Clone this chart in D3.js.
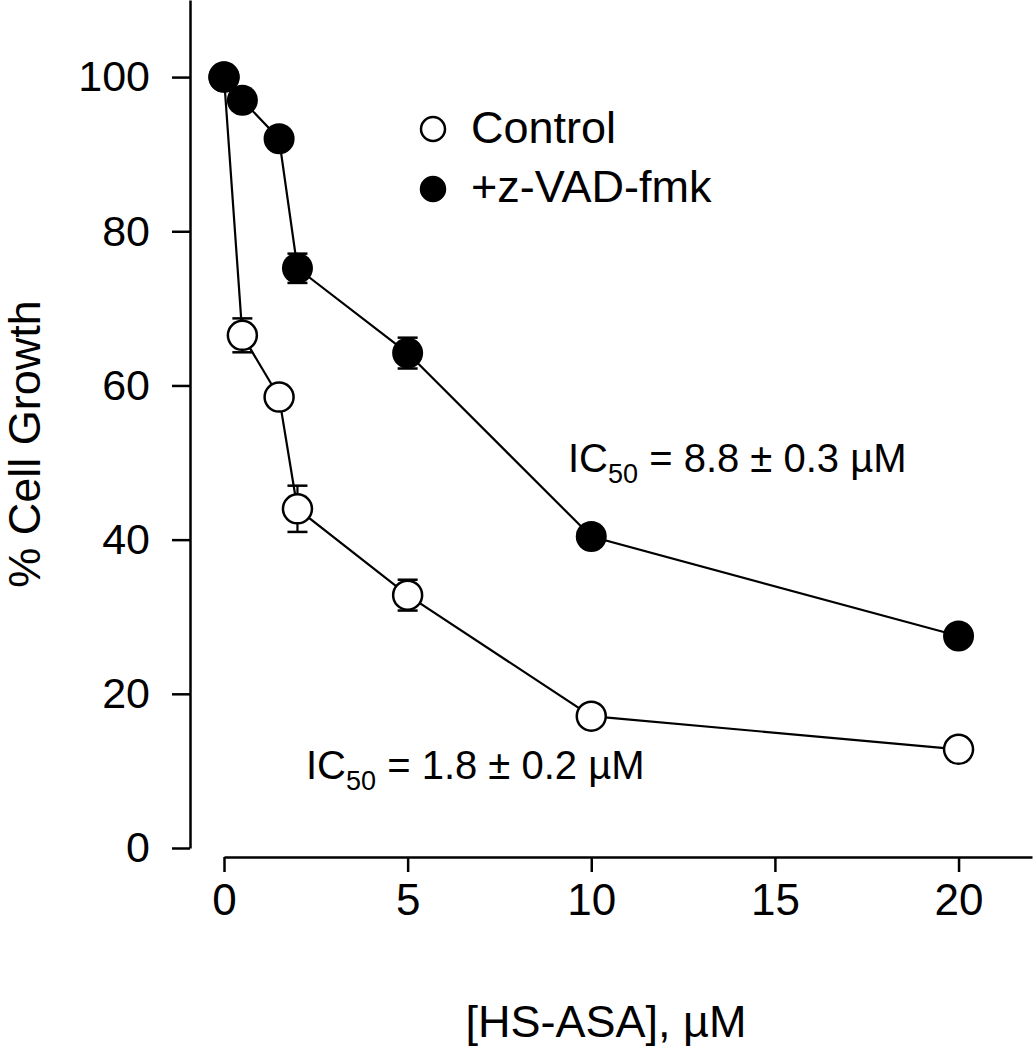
<!DOCTYPE html>
<html>
<head>
<meta charset="utf-8">
<script src="https://cdnjs.cloudflare.com/ajax/libs/d3/7.8.5/d3.min.js"></script>
<style>
  body { margin: 0; background: #fff; }
  svg { display: block; font-family: 'Liberation Sans', Arial, sans-serif; }
</style>
</head>
<body>
<svg id="board" width="1033" height="1050"></svg>
<script>
// concentrations of HS-ASA (uM)
let doses = [0, 0.5, 1.5, 2, 5, 10, 20]

// % cell growth, with error (+/-)
let controlGrowth = [100, 66.5, 58.5, 44.0, 32.8, 17.1, 12.8]
let controlErr = [0, 2.2, 1.4, 3.0, 2.0, 0.5, 0.5]
let zvadGrowth = [100, 97.0, 92.0, 75.2, 64.2, 40.4, 27.5]
let zvadErr = [0, 0.5, 0.6, 1.9, 2.0, 0.5, 0.5]

let xTicks = [0, 5, 10, 15, 20]
let yTicks = [0, 20, 40, 60, 80, 100]

let seriesNames = ['Control', '+z-VAD-fmk']

let board = d3.select('#board')

let xScale = d3.scaleLinear().domain([0, 22]).range([224, 1032])
let yScale = d3.scaleLinear().domain([0, 110]).range([848, 0])

// y axis
let yAxis = d3.axisLeft(yScale)
    .tickValues(yTicks)
    .tickSize(18)
    .tickPadding(22)
    .tickSizeOuter(0)

let yG = board.append('g')
    .attr('transform', 'translate(190,0)')
    .call(yAxis)
yG.select('.domain').attr('stroke', '#000').attr('stroke-width', 2.5)
yG.selectAll('.tick line').attr('stroke', '#000').attr('stroke-width', 2.5)
yG.selectAll('.tick text')
    .attr('font-size', 43)
    .attr('font-family', 'Liberation Sans, Arial, sans-serif')
    .attr('fill', '#000')

// x axis (offset below the y axis like the original)
let xAxis = d3.axisBottom(xScale)
    .tickValues(xTicks)
    .tickSize(15)
    .tickPadding(12)
    .tickSizeOuter(0)

let xG = board.append('g')
    .attr('transform', 'translate(0,857)')
    .call(xAxis)
xG.select('.domain').attr('stroke', '#000').attr('stroke-width', 2.5)
xG.selectAll('.tick line').attr('stroke', '#000').attr('stroke-width', 2.5)
xG.selectAll('.tick text')
    .attr('font-size', 44)
    .attr('font-family', 'Liberation Sans, Arial, sans-serif')
    .attr('fill', '#000')

// axis titles
board.append('text')
    .attr('x', 606)
    .attr('y', 1037)
    .attr('text-anchor', 'middle')
    .attr('font-size', 45)
    .text('[HS-ASA], \u00b5M')

board.append('text')
    .attr('transform', 'translate(40,444) rotate(-90)')
    .attr('text-anchor', 'middle')
    .attr('font-size', 45)
    .text('% Cell Growth')

let makeSeries = function(values, errs, filled) {
    let pts = doses.map((d, i) => {
        return { x: d, y: values[i], e: errs[i] }
    })

    let line = d3.line()
        .x((p) => xScale(p.x))
        .y((p) => yScale(p.y))

    board.append('path')
        .datum(pts)
        .attr('d', line)
        .attr('fill', 'none')
        .attr('stroke', '#000')
        .attr('stroke-width', 2.2)

    let bars = board.append('g')
        .selectAll('g')
        .data(pts.filter((p) => p.e > 0))
        .enter()
        .append('g')

    bars.append('line')
        .attr('x1', (p) => xScale(p.x))
        .attr('x2', (p) => xScale(p.x))
        .attr('y1', (p) => yScale(p.y + p.e))
        .attr('y2', (p) => yScale(p.y - p.e))
        .attr('stroke', '#000')
        .attr('stroke-width', 2.2)

    bars.selectAll('.cap')
        .data((p) => [p.y + p.e, p.y - p.e].map((v) => ({ x: p.x, v: v })))
        .enter()
        .append('line')
        .attr('class', 'cap')
        .attr('x1', (c) => xScale(c.x) - 10)
        .attr('x2', (c) => xScale(c.x) + 10)
        .attr('y1', (c) => yScale(c.v))
        .attr('y2', (c) => yScale(c.v))
        .attr('stroke', '#000')
        .attr('stroke-width', 2.5)

    board.append('g')
        .selectAll('circle')
        .data(pts)
        .enter()
        .append('circle')
        .attr('cx', (p) => xScale(p.x))
        .attr('cy', (p) => yScale(p.y))
        .attr('r', filled ? 15.5 : 14.5)
        .attr('fill', filled ? '#000' : '#fff')
        .attr('stroke', '#000')
        .attr('stroke-width', filled ? 0 : 2.5)
}

makeSeries(controlGrowth, controlErr, false)
makeSeries(zvadGrowth, zvadErr, true)

// legend
let legend = board.append('g')
legend.selectAll('circle')
    .data(seriesNames)
    .enter()
    .append('circle')
    .attr('cx', 433)
    .attr('cy', (d, i) => 129 + i * 60)
    .attr('r', 12)
    .attr('fill', (d, i) => i == 0 ? '#fff' : '#000')
    .attr('stroke', '#000')
    .attr('stroke-width', 2.5)

legend.selectAll('text')
    .data(seriesNames)
    .enter()
    .append('text')
    .attr('x', 471)
    .attr('y', (d, i) => 143 + i * 59)
    .attr('font-size', 45)
    .text((d) => d)

// IC50 labels
let icLabels = [
    { x: 568, y: 472, val: '8.8 \u00b1 0.3 \u00b5M' },
    { x: 306, y: 779, val: '1.8 \u00b1 0.2 \u00b5M' }
]

icLabels.forEach((lab) => {
    let t = board.append('text')
        .attr('x', lab.x)
        .attr('y', lab.y)
        .attr('font-size', 40)
    t.append('tspan').text('IC')
    t.append('tspan').attr('font-size', 27).attr('dy', 11).text('50')
    t.append('tspan').attr('dy', -11).text(' = ' + lab.val)
})
</script>
</body>
</html>
